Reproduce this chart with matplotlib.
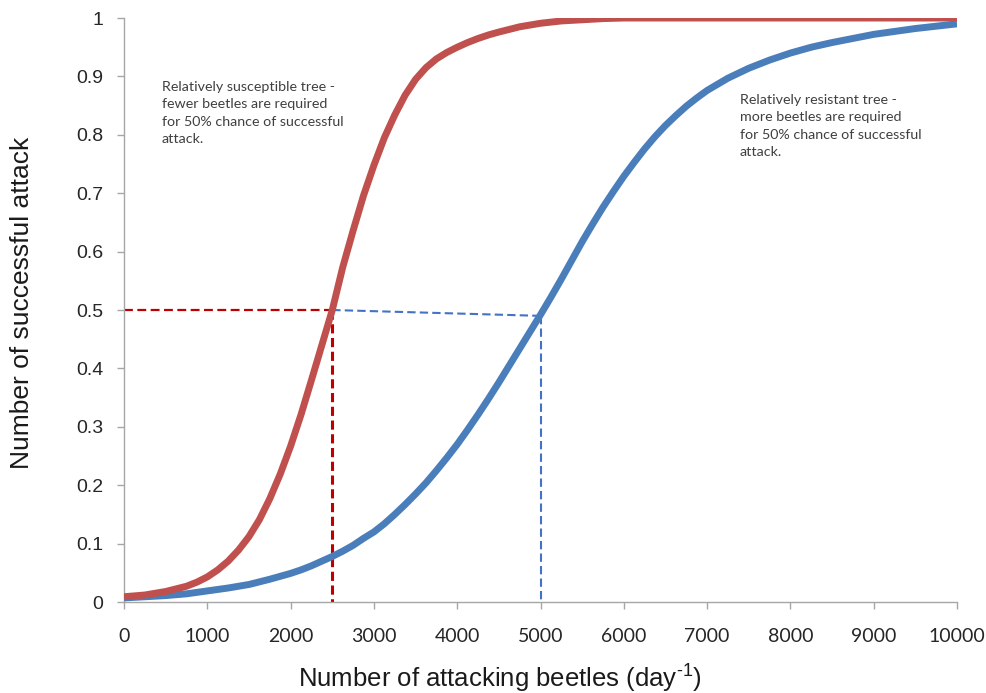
"""Probability of successful bark beetle attack vs. number of attacking beetles."""

import matplotlib.pyplot as plt

plt.rcParams["mathtext.fontset"] = "custom"
plt.rcParams["mathtext.rm"] = "Liberation Sans"
plt.rcParams["mathtext.it"] = "Liberation Sans"

# susceptible tree (red curve)
red_beetles = [
    0, 250, 500, 750, 875, 1000, 1125, 1250, 1375, 1500, 1625, 1750, 1875,
    2000, 2125, 2250, 2375, 2500, 2625, 2750, 2875, 3000, 3125, 3250, 3375,
    3500, 3625, 3750, 3875, 4000, 4125, 4250, 4375, 4500, 4750, 5000, 5250,
    5500, 5750, 6000, 7000, 8000, 9000, 10000,
]
susceptible = [
    0.009, 0.012, 0.018, 0.027, 0.034, 0.043, 0.055, 0.07, 0.089, 0.112, 0.141,
    0.177, 0.219, 0.267, 0.321, 0.38, 0.44, 0.5, 0.573, 0.636, 0.696, 0.748,
    0.795, 0.834, 0.868, 0.895, 0.915, 0.93, 0.941, 0.95, 0.958, 0.965, 0.971,
    0.976, 0.985, 0.991, 0.995, 0.997, 0.999, 1.0, 1.0, 1.0, 1.0, 1.0,
]

# resistant tree (blue curve)
blue_beetles = [
    0, 250, 500, 750, 1000, 1250, 1500, 1750, 2000, 2125, 2250, 2375, 2500,
    2625, 2750, 2875, 3000, 3125, 3250, 3375, 3500, 3625, 3750, 3875, 4000,
    4125, 4250, 4375, 4500, 4625, 4750, 4875, 5000, 5125, 5250, 5375, 5500,
    5625, 5750, 5875, 6000, 6125, 6250, 6375, 6500, 6625, 6750, 6875, 7000,
    7250, 7500, 7750, 8000, 8250, 8500, 8750, 9000, 9250, 9500, 9750, 10000,
]
resistant = [
    0.007, 0.009, 0.011, 0.014, 0.019, 0.024, 0.03, 0.039, 0.049, 0.055, 0.062,
    0.07, 0.078, 0.087, 0.097, 0.109, 0.12, 0.134, 0.15, 0.167, 0.185, 0.204,
    0.225, 0.247, 0.27, 0.295, 0.321, 0.348, 0.376, 0.405, 0.434, 0.463, 0.492,
    0.522, 0.553, 0.585, 0.617, 0.647, 0.676, 0.703, 0.729, 0.753, 0.776,
    0.797, 0.816, 0.833, 0.849, 0.863, 0.876, 0.897, 0.914, 0.928, 0.94,
    0.95, 0.958, 0.965, 0.972, 0.977, 0.982, 0.986, 0.99,
]

# 50% guide lines
red_x50, red_y50 = 2500, 0.5
blue_x50, blue_y50 = 5000, 0.49

x_ticks = list(range(0, 10001, 1000))
y_ticks = [0, 0.1, 0.2, 0.3, 0.4, 0.5, 0.6, 0.7, 0.8, 0.9, 1]
y_tick_labels = ["0", "0.1", "0.2", "0.3", "0.4", "0.5", "0.6", "0.7", "0.8", "0.9", "1"]

note_susceptible = ("Relatively susceptible tree -\nfewer beetles are required\n"
                    "for 50% chance of successful\nattack.")
note_resistant = ("Relatively resistant tree -\nmore beetles are required\n"
                  "for 50% chance of successful\nattack.")

RED = "#C0504D"
BLUE = "#4A7EBB"
AXIS_GRAY = "#A6A6A6"
TEXT = "#1a1a1a"

fig = plt.figure(figsize=(9.86, 6.93), dpi=100)
ax = fig.add_axes([0.1258, 0.1313, 0.8448, 0.8427])

ax.plot([0, red_x50], [red_y50, red_y50], color="#C00000", lw=1.6, ls=(0, (4, 2)), zorder=2)
ax.plot([red_x50, red_x50], [red_y50, 0], color="#C00000", lw=2.2, ls=(0, (3, 1.5)), zorder=2)
ax.plot([red_x50, blue_x50], [red_y50, blue_y50], color="#4472C4", lw=1.5, ls=(0, (4, 2)), zorder=2)
ax.plot([blue_x50, blue_x50], [blue_y50, 0], color="#4472C4", lw=1.5, ls=(0, (4, 2)), zorder=2)

ax.plot(blue_beetles, resistant, color=BLUE, lw=5, solid_capstyle="butt",
        solid_joinstyle="round", zorder=3)
ax.plot(red_beetles, susceptible, color=RED, lw=5, solid_capstyle="butt",
        solid_joinstyle="round", zorder=4)

ax.set_xlim(0, 10000)
ax.set_ylim(0, 1)
ax.set_xticks(x_ticks)
ax.set_xticklabels([str(t) for t in x_ticks], fontfamily="Lato", fontsize=14, color="#262626")
ax.set_yticks(y_ticks)
ax.set_yticklabels(y_tick_labels, fontfamily="Liberation Sans", fontsize=14, color="#262626")
ax.tick_params(axis="both", direction="out", length=5, width=1, color=AXIS_GRAY)
ax.tick_params(axis="x", pad=14)
ax.tick_params(axis="y", pad=10)

for side in ("top", "right"):
    ax.spines[side].set_visible(False)
for side in ("left", "bottom"):
    ax.spines[side].set_color(AXIS_GRAY)
    ax.spines[side].set_linewidth(1)

fig.text(500 / 986, 0.008, r"Number of attacking beetles (day$^{\text{-1}}$)",
         family="Liberation Sans", fontsize=18.5, color=TEXT,
         ha="center", va="baseline")
fig.text(22 / 986, (693 - 303) / 693, "Number of successful attack",
         family="Liberation Sans", fontsize=19, color=TEXT, rotation=90,
         ha="center", va="center")

ax.text(0.045, 0.893, note_susceptible, transform=ax.transAxes, fontfamily="Lato",
        fontsize=10.3, color="#404040", va="top", ha="left", linespacing=1.55)
ax.text(0.739, 0.87, note_resistant, transform=ax.transAxes, fontfamily="Lato",
        fontsize=10.3, color="#404040", va="top", ha="left", linespacing=1.55)

fig.savefig("out.png", dpi=100)
plt.close(fig)
